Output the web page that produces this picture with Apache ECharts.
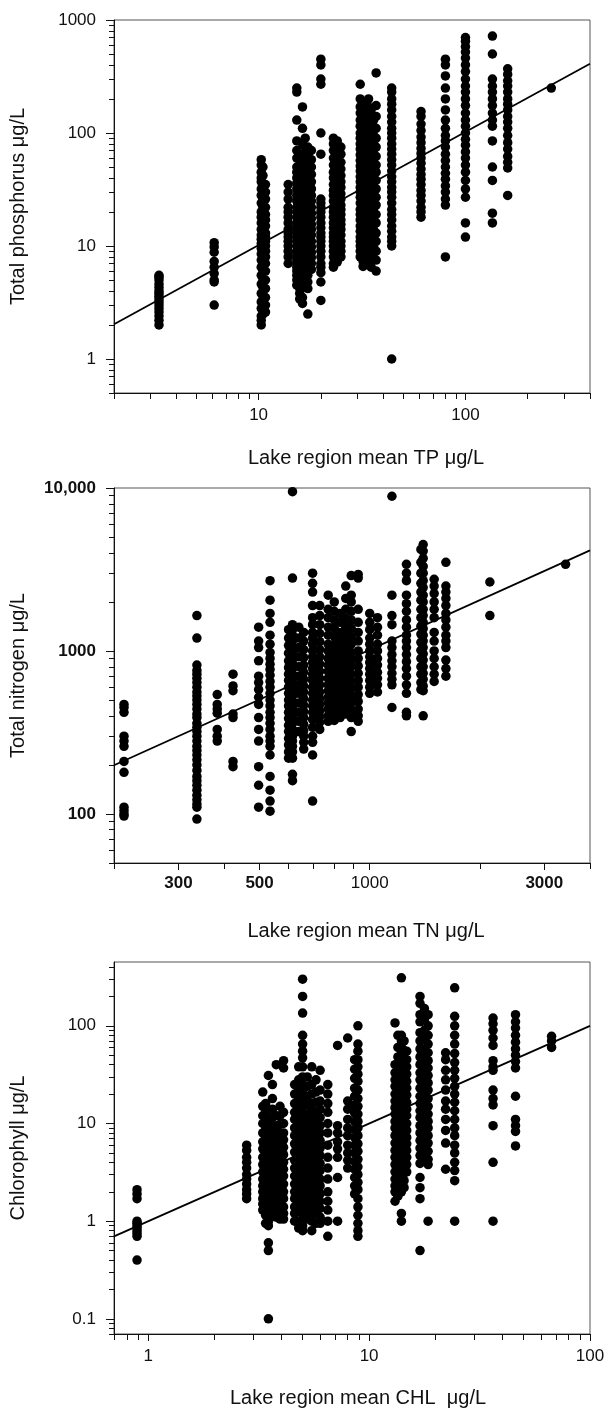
<!DOCTYPE html>
<html><head><meta charset="utf-8">
<script src="https://cdn.jsdelivr.net/npm/echarts@6/dist/echarts.min.js"></script>
<style>html,body{margin:0;padding:0;background:#fff}#c{width:608px;height:1408px}</style>
</head><body><div id="c"></div>
<script>
// ---------- Panel 1: total phosphorus ----------
const tpRegionMeans = [3.3, 6.1, 10.3, 10.8, 13.9, 15.3, 16.3, 17.3, 20, 23, 25, 31, 33, 35, 37, 44, 61, 80, 100, 135, 160, 260,
  15.8, 16.8, 18, 32, 34, 36, 10.5, 24];
const tpLakeValues = [
  [2.0, 2.2, 2.4, 2.6, 2.8, 3.0, 3.2, 3.4, 3.6, 3.8, 4.0, 4.3, 4.6, 5.0, 5.3, 5.5],
  [10.7, 9.8, 8.8, 7.3, 6.5, 5.7, 5.0, 4.8, 3.0],
  [58, 52, 45, 40, 37, 32, 28, 24, 20, 18, 16, 14, 12.5, 11.5, 10.5, 9.5, 8.5, 7.5, 6.5, 5.5, 4.6, 3.8, 3.2, 2.8, 2.4, 2.2, 2.0],
  [35, 30, 26, 22, 19, 17, 15, 13, 12, 11, 10, 9, 8, 7, 6, 5, 4.2, 3.5, 3.0, 2.6],
  [35, 30, 26, 22, 20, 18, 16, 14, 13, 12, 11, 10, 9, 8, 7],
  [250, 230, 130, 85, 70, 60, 50, 45, 40, 36, 32, 28, 25, 22, 20, 18, 16, 15, 14, 13, 12, 11, 10, 9, 8.5, 8, 7.5, 7, 6.5, 6, 5.5, 5, 4.5],
  [170, 110, 80, 65, 55, 48, 42, 38, 34, 30, 27, 24, 21, 19, 17, 15.5, 14, 12.5, 11.5, 10.5, 9.5, 8.5, 7.8, 7, 6.3, 5.7, 5.2, 4.7, 4.3, 3.5, 3.1],
  [75, 65, 55, 48, 42, 36, 31, 27, 24, 21, 18.5, 16.5, 15, 13.5, 12, 11, 10, 9, 8, 7, 6.2, 5.5, 4.8, 4.2, 2.5],
  [450, 400, 300, 270, 100, 65, 26, 24, 22, 20, 18, 16, 14.5, 13, 12, 11, 10, 9, 8, 7, 6.5, 5.8, 4.8, 3.3],
  [90, 80, 70, 60, 52, 45, 40, 35, 31, 28, 25, 22, 20, 18, 16, 14.5, 13, 12, 11, 10, 9, 8, 7, 6.5],
  [75, 65, 55, 48, 42, 37, 33, 29, 26, 23, 21, 19, 17, 15.5, 14, 12.5, 11, 10, 9, 8],
  [270, 200, 170, 150, 130, 115, 100, 90, 80, 72, 64, 57, 51, 46, 41, 37, 33, 30, 27, 24, 21, 19, 17, 15, 13.5, 12, 11, 10, 9, 8],
  [180, 150, 125, 105, 92, 82, 73, 65, 58, 52, 47, 42, 38, 34, 31, 28, 25, 22.5, 20, 18, 16, 14.5, 13, 12, 11, 10, 9, 8, 7.2],
  [160, 135, 115, 100, 88, 78, 70, 62, 55, 49, 44, 40, 36, 32, 29, 26, 23, 21, 19, 17, 15, 13.5, 12, 11, 10, 9, 8, 6.5],
  [340, 175, 140, 110, 90, 75, 62, 52, 45, 38, 32, 27, 23, 19, 16, 13, 11, 9, 7.5, 6],
  [250, 230, 200, 180, 160, 140, 125, 110, 100, 90, 80, 72, 65, 58, 52, 46, 41, 37, 33, 30, 27, 24, 21, 19, 17, 15, 13.5, 12, 11, 10, 1.0],
  [155, 140, 120, 105, 92, 82, 73, 66, 60, 54, 48, 43, 39, 35, 31, 28, 25, 22, 20, 18],
  [450, 400, 320, 250, 200, 160, 130, 110, 95, 85, 75, 65, 57, 50, 44, 39, 34, 30, 26, 23, 8],
  [700, 650, 580, 520, 460, 400, 350, 300, 260, 230, 200, 175, 150, 130, 115, 100, 88, 78, 68, 60, 52, 45, 38, 32, 27, 16, 12],
  [720, 500, 300, 260, 230, 200, 175, 150, 130, 115, 85, 50, 38, 19.5, 16],
  [370, 330, 290, 260, 230, 200, 180, 160, 140, 125, 110, 95, 82, 72, 62, 55, 49, 28],
  [250],
  [60, 52, 46, 41, 37, 33, 29.5, 26.5, 23.5, 21, 19, 17, 15.5, 14, 12.8, 11.7, 10.7, 9.8, 9, 8.2, 7.4, 6.7, 6, 5.3, 4.7, 4.2, 3.8, 3.4],
  [90, 75, 62, 53, 46, 40, 35, 31, 28, 25, 22.5, 20, 18, 16.2, 14.6, 13.2, 12, 10.9, 9.9, 9, 8.2, 7.4, 6.7, 6.1, 5.5, 5],
  [70, 58, 50, 43, 37, 32, 28, 25, 22, 19.5, 17.5, 15.5, 14, 12.5, 11, 9.8, 8.8, 7.9, 7, 6.2],
  [140, 120, 105, 95, 85, 76, 68, 61, 55, 49.5, 44.5, 40, 36, 32.5, 29, 26, 23.5, 21, 19, 17, 15.3, 13.8, 12.4, 11.2, 10, 9, 8.1, 7.3, 6.6],
  [200, 170, 140, 120, 104, 91, 80, 70, 62, 55, 49, 44, 39.5, 35.5, 32, 28.5, 25.5, 23, 20.5, 18.3, 16.3, 14.6, 13, 11.6, 10.4, 9.3, 8.3, 7.4],
  [130, 110, 95, 84, 74, 66, 59, 53, 47, 42, 37.5, 33.5, 30, 27, 24, 21.5, 19.2, 17.2, 15.4, 13.8, 12.3, 11, 9.8, 8.7],
  [50, 42, 35, 30, 26, 22, 19, 17, 15, 13.5, 12, 11, 10, 9, 8, 7, 6, 5, 4.3, 3.6, 3.0, 2.5],
  [85, 72, 62, 54, 47, 41, 36, 32, 28.5, 25.5, 23, 20.5, 18.5, 16.5, 15, 13.5, 12.2, 11, 10, 9, 8, 7.2]
];
const tpFitLine = [[2, 2.03], [400, 410]];

// ---------- Panel 2: total nitrogen ----------
const tnRegionMeans = [213, 337, 383, 423, 497, 534, 615, 640, 698, 770, 830, 890, 930, 1000, 1050, 1150, 1260, 1400, 1500, 1615, 2130, 3430,
  600, 660, 730, 800, 860, 1380];
const tnLakeValues = [
  [470, 450, 420, 300, 280, 260, 210, 180, 110, 105, 100, 97],
  [1650, 1200, 820, 760, 720, 680, 640, 600, 560, 530, 500, 470, 440, 410, 390, 360, 340, 320, 300, 280, 260, 245, 230, 215, 200, 185, 170, 160, 150, 140, 130, 122, 115, 110, 93],
  [540, 470, 440, 415, 330, 300, 280],
  [720, 610, 570, 410, 390, 210, 195],
  [1400, 1150, 1050, 870, 700, 640, 580, 520, 470, 390, 330, 280, 195, 150, 110],
  [2700, 2050, 1700, 1500, 1250, 1100, 980, 900, 830, 770, 710, 650, 600, 550, 500, 460, 420, 390, 360, 330, 300, 280, 260, 230, 170, 140, 120, 104],
  [9500, 2800, 1450, 1350, 1250, 1150, 1050, 980, 900, 840, 780, 720, 670, 620, 570, 530, 490, 450, 420, 390, 360, 330, 300, 280, 260, 240, 220, 175, 160],
  [1400, 1200, 1050, 920, 800, 700, 620, 550, 480, 420, 370, 320],
  [3000, 2600, 2300, 1900, 1600, 1450, 1300, 1200, 1100, 1000, 920, 850, 780, 720, 660, 600, 550, 500, 460, 420, 380, 340, 300, 275, 230, 120],
  [2200, 1800, 1600, 1400, 1250, 1100, 1000, 900, 820, 750, 680, 620, 570, 520, 480, 440, 400, 370],
  [1700, 1500, 1300, 1150, 1050, 950, 870, 800, 730, 670, 610, 560, 510, 470, 430, 390],
  [2900, 2200, 2000, 1750, 1550, 1380, 1230, 1100, 980, 880, 800, 720, 650, 590, 530, 480, 430, 390, 320],
  [2950, 2800, 1800, 1500, 1300, 1150, 1000, 900, 810, 730, 660, 600, 540, 490, 440, 400, 370],
  [1700, 1500, 1350, 1200, 1100, 1000, 920, 850, 780, 720, 660, 600, 550],
  [1600, 1400, 1250, 1100, 1000, 900, 820, 740, 680, 620, 560],
  [8900, 2200, 1650, 1450, 1150, 1050, 950, 870, 800, 730, 670, 620, 450],
  [3400, 3000, 2700, 2200, 1950, 1750, 1550, 1400, 1250, 1150, 1050, 950, 860, 780, 700, 620, 550, 420, 400],
  [4500, 4100, 3700, 3300, 3000, 2700, 2450, 2200, 2000, 1800, 1650, 1500, 1370, 1250, 1150, 1050, 960, 880, 800, 730, 670, 610, 570, 400],
  [2750, 2500, 2250, 2000, 1800, 1600, 1300, 1150, 1000, 900, 800, 720, 650],
  [3500, 2500, 2300, 2100, 1900, 1700, 1550, 1400, 1250, 1150, 1050, 880, 780, 700],
  [2650, 1650],
  [3400],
  [1350, 1200, 1080, 970, 870, 790, 720, 660, 600, 550, 500, 460, 420, 385, 350, 320, 290, 265, 240, 220],
  [1300, 1150, 1020, 910, 820, 740, 670, 610, 560, 510, 465, 425, 390, 355, 325, 300, 275, 250],
  [1900, 1650, 1450, 1280, 1140, 1020, 920, 830, 750, 680, 620, 560, 510, 470, 430, 395, 365, 330],
  [2000, 1750, 1550, 1380, 1230, 1100, 990, 890, 800, 720, 650, 590, 535, 485, 440, 400, 375],
  [2500, 2100, 1800, 1580, 1400, 1250, 1120, 1000, 900, 810, 730, 660, 600, 545, 495, 450, 410],
  [4200, 3500, 3000, 2600, 2300, 2050, 1800, 1600, 1420, 1270, 1130, 1010, 900, 800, 720, 640, 580]
];
const tnFitLine = [[200, 199], [4000, 4140]];

// ---------- Panel 3: chlorophyll ----------
const chlRegionMeans = [0.89, 2.79, 3.3, 3.5, 3.8, 4.1, 4.6, 5.0, 5.5, 6.0, 6.5, 7.2, 8.0, 8.9, 13.1, 14, 14.8, 17, 18.5, 22.2, 24.4, 36.4, 46, 67,
  3.4, 3.65, 3.95, 4.8, 5.25, 5.75, 8.6, 13.5, 14.4, 17.8];
const chlLakeValues = [
  [2.1, 1.9, 1.7, 1.0, 0.95, 0.9, 0.85, 0.8, 0.75, 0.7, 0.4],
  [6, 5.3, 4.5, 4, 3.5, 3, 2.7, 2.4, 2.1, 1.9, 1.7],
  [21, 15, 12, 10, 8, 6.5, 5.5, 4.5, 3.8, 3.2, 2.7, 2.3, 2, 1.7, 1.5, 1.3],
  [31, 14, 11, 9, 7.5, 6.3, 5.2, 4.4, 3.7, 3.1, 2.6, 2.2, 1.9, 1.6, 1.4, 1.2, 1.0, 0.9, 0.6, 0.5, 0.1],
  [40, 12, 9.5, 8, 6.5, 5.5, 4.6, 3.9, 3.3, 2.8, 2.4, 2, 1.7, 1.45, 1.25, 1.1],
  [44, 37, 13, 10, 8, 6.8, 5.7, 4.8, 4, 3.4, 2.9, 2.4, 2, 1.7, 1.4, 1.2, 1.05],
  [25, 20, 16, 13, 11, 9, 7.5, 6.2, 5.1, 4.2, 3.5, 2.9, 2.4, 2.0, 1.7, 1.4, 1.2, 1.0],
  [300, 200, 135, 80, 65, 55, 47, 38, 30, 25, 21, 18, 15, 13, 11, 9.5, 8, 7, 6, 5.2, 4.5, 3.9, 3.3, 2.8, 2.4, 2, 1.7, 1.45, 1.25, 1.05, 0.9, 0.8],
  [38, 25, 20, 16, 13.5, 11.5, 9.8, 8.3, 7, 6, 5, 4.3, 3.6, 3.1, 2.6, 2.2, 1.9, 1.6, 1.35, 1.15, 1.0, 0.8],
  [35, 22, 17, 14, 11.5, 9.5, 8, 6.7, 5.6, 4.7, 3.9, 3.3, 2.7, 2.3, 1.9, 1.6, 1.35, 1.1, 0.95],
  [25, 20, 16, 13, 10, 8, 6, 4.5, 3.5, 2.7, 2, 1.6, 1.3, 1.0, 0.7],
  [63, 9.5, 8, 6.5, 5.5, 4.5, 2.8, 1.0],
  [75, 17, 14, 11, 9, 7.5, 6, 5, 4.2, 3.5],
  [100, 65, 55, 45, 38, 32, 27, 22, 18, 15, 12.5, 10.5, 9, 7.5, 6.2, 5.2, 4.3, 3.6, 3, 2.5, 2.1, 1.7, 1.4, 1.15, 0.95, 0.8, 0.7],
  [107, 40, 33, 28, 24, 20, 17, 14.5, 12.5, 10.5, 9, 7.5, 6.3, 5.3, 4.5, 3.8, 3.2, 2.7, 2.3, 2, 1.6],
  [310, 80, 70, 60, 52, 45, 39, 34, 29, 25, 21.5, 18.5, 16, 14, 12, 10.5, 9, 7.8, 6.7, 5.8, 5, 4.3, 3.7, 3.2, 2.7, 2.3, 2, 1.2, 1.0],
  [55, 45, 38, 32, 27, 23, 19.5, 16.5, 14, 12, 10, 8.5, 7.2, 6.2, 5.3, 4.5, 3.8, 3.2],
  [200, 170, 130, 110, 85, 70, 58, 48, 40, 33, 28, 23, 19, 16, 13.5, 11.5, 9.5, 8, 6.7, 5.6, 4.7, 3.9, 2.8, 2.2, 1.7, 0.5],
  [130, 100, 80, 65, 53, 44, 37, 31, 26, 22, 18, 15, 12.5, 10.5, 9, 7.5, 6.3, 5.2, 4.3, 3.8, 1.0],
  [53, 45, 35, 28, 22, 17, 14, 11, 8.5, 6.3, 3.4],
  [245, 125, 100, 80, 65, 52, 42, 35, 29, 24, 20, 16.5, 13.5, 11, 9, 7.5, 6, 5, 4, 3.3, 2.6, 1.0],
  [120, 105, 90, 75, 63, 44, 38, 35, 22, 18, 15.5, 9.5, 4, 1.0],
  [130, 110, 95, 80, 68, 58, 50, 43, 37, 19, 11, 9.5, 8.3, 5.9],
  [78, 70, 60],
  [16, 13, 10.5, 8.6, 7, 5.8, 4.8, 4, 3.3, 2.7, 2.25, 1.9, 1.6, 1.35, 1.15, 0.95],
  [25, 18, 14, 11.5, 9.3, 7.6, 6.2, 5.1, 4.2, 3.5, 2.9, 2.4, 2, 1.7, 1.4, 1.2],
  [15, 12, 9.8, 8, 6.6, 5.4, 4.5, 3.7, 3.1, 2.6, 2.2, 1.8, 1.5, 1.25, 1.05],
  [38, 28, 22, 18, 14.5, 12, 10, 8.3, 6.9, 5.7, 4.7, 3.9, 3.2, 2.7, 2.2, 1.8, 1.5, 1.25, 1.0, 0.85],
  [30, 24, 19, 15.5, 12.5, 10.2, 8.4, 7, 5.8, 4.8, 4, 3.3, 2.7, 2.2, 1.8, 1.5, 1.25, 1.05],
  [28, 21, 16.5, 13.2, 10.7, 8.7, 7.1, 5.8, 4.8, 4, 3.3, 2.7, 2.2, 1.8, 1.5, 1.2, 0.95],
  [45, 36, 29, 23, 19, 15.5, 12.8, 10.5, 8.7, 7.2, 6, 5, 4.1, 3.4, 2.8, 2.3, 1.9],
  [80, 60, 48, 39, 32, 26, 21.5, 18, 15, 12.5, 10.5, 8.8, 7.4, 6.2, 5.2, 4.4, 3.7, 3.1, 2.6, 2.2, 1.8],
  [70, 56, 46, 38, 31, 26, 21.5, 18, 15, 12.6, 10.6, 8.9, 7.5, 6.3, 5.3, 4.4, 3.7, 3.1, 2.6, 2.2],
  [150, 115, 90, 72, 58, 47, 38, 31, 25, 20.5, 16.8, 13.8, 11.3, 9.3, 7.7, 6.3, 5.2, 4.3]
];
const chlFitLine = [[0.7, 0.7], [100, 100]];

// ---------- Axis tick labels ----------
const tpXLabels = [10, 100];
const tpYLabels = [1, 10, 100, 1000];
const tnXLabels = [300, 500, 1000, 3000];
const tnYLabels = [100, 1000, 10000];
const chlXLabels = [1, 10, 100];
const chlYLabels = [0.1, 1, 10, 100];

// minor tick positions (1..9 x each decade) within [min,max]
function decadeTicks(min, max) {
  const out = [];
  for (let e = -3; e <= 5; e++) {
    for (let m = 1; m <= 9; m++) {
      const v = +(m * Math.pow(10, e)).toPrecision(6);
      if (v >= min * 0.9999 && v <= max * 1.0001) out.push(v);
    }
  }
  return out;
}

function pointsOf(means, values) {
  const pts = [];
  means.forEach((x, i) => values[i].forEach(y => pts.push([x, y])));
  return pts;
}

const FONT = '"Liberation Sans", Arial, Helvetica, sans-serif';

function axisPair(o) {
  const main = {
    type: 'log', logBase: 10, gridIndex: o.grid, min: o.min, max: o.max,
    position: o.isX ? 'bottom' : 'left',
    axisLine: { show: true, onZero: false, lineStyle: { color: '#111', width: 1 } },
    axisTick: { show: true, inside: false, length: o.majorLen, customValues: o.major, lineStyle: { color: '#111', width: 1 } },
    axisLabel: Object.assign({
      show: true, customValues: o.labels, fontSize: 17, fontFamily: FONT, color: '#111',
      margin: o.margin, fontWeight: o.bold ? 'bold' : 'normal',
      formatter: o.formatter || (v => String(v))
    }, o.labelExtra || {}),
    splitLine: { show: false }, minorTick: { show: false }, minorSplitLine: { show: false },
    name: o.name, nameLocation: 'middle', nameGap: o.nameGap,
    nameTextStyle: Object.assign({ fontSize: 20, fontFamily: FONT, color: '#111' }, o.nameStyle || {})
  };
  const minor = {
    type: 'log', logBase: 10, gridIndex: o.grid, min: o.min, max: o.max,
    position: o.isX ? 'bottom' : 'left',
    axisLine: { show: false },
    axisTick: { show: true, inside: false, length: o.minorLen, customValues: o.minor, lineStyle: { color: '#111', width: 1 } },
    axisLabel: { show: false },
    splitLine: { show: false }, minorTick: { show: false }, minorSplitLine: { show: false }
  };
  return [main, minor];
}

const gridBox = { show: true, borderColor: '#555', borderWidth: 1, backgroundColor: 'transparent', outerBoundsMode: 'none', containLabel: false };

const xAxes = [].concat(
  axisPair({ grid: 0, isX: true, min: 2, max: 400, labels: tpXLabels, major: tpXLabels, minor: decadeTicks(2, 400), majorLen: 7, minorLen: 6, margin: 14,
    name: 'Lake region mean TP \u03bcg/L', nameGap: 55, nameStyle: { padding: [0, 0, 0, 28] } }),
  axisPair({ grid: 1, isX: true, min: 200, max: 4000, labels: tnXLabels, major: tnXLabels, minor: decadeTicks(200, 4000), majorLen: 7, minorLen: 6, margin: 12,
    formatter: v => (v === 1000 ? '{n|1000}' : '{b|' + v + '}'),
    labelExtra: { rich: { n: { fontSize: 17, fontFamily: FONT, color: '#111', fontWeight: 'normal' }, b: { fontSize: 17, fontFamily: FONT, color: '#111', fontWeight: 'bold' } } },
    name: 'Lake region mean TN \u03bcg/L', nameGap: 58, nameStyle: { padding: [0, 0, 0, 28] } }),
  axisPair({ grid: 2, isX: true, min: 0.7, max: 100, labels: chlXLabels, major: chlXLabels, minor: decadeTicks(0.7, 100), majorLen: 7, minorLen: 6, margin: 14,
    name: 'Lake region mean CHL  \u03bcg/L', nameGap: 54, nameStyle: { padding: [0, 0, 0, 12] } })
);
const yAxes = [].concat(
  axisPair({ grid: 0, isX: false, min: 0.5, max: 1000, labels: tpYLabels, major: tpYLabels, minor: decadeTicks(0.5, 1000), majorLen: 8, minorLen: 5, margin: 18,
    name: 'Total phosphorus \u03bcg/L', nameGap: 86 }),
  axisPair({ grid: 1, isX: false, min: 50, max: 10000, labels: tnYLabels, major: tnYLabels, minor: decadeTicks(50, 10000), majorLen: 8, minorLen: 5, margin: 18, bold: true,
    formatter: v => (v === 10000 ? '10,000' : String(v)),
    name: 'Total nitrogen \u03bcg/L', nameGap: 86 }),
  axisPair({ grid: 2, isX: false, min: 0.07, max: 450, labels: chlYLabels, major: chlYLabels, minor: decadeTicks(0.07, 450), majorLen: 8, minorLen: 5, margin: 18,
    name: 'Chlorophyll \u03bcg/L', nameGap: 86 })
);

function scatter(idx, pts) {
  return { type: 'scatter', xAxisIndex: idx * 2, yAxisIndex: idx * 2, data: pts, symbol: 'circle', symbolSize: 9.5,
    itemStyle: { color: '#000', opacity: 1 }, silent: true, animation: false, z: 2 };
}
function fit(idx, pts) {
  return { type: 'line', xAxisIndex: idx * 2, yAxisIndex: idx * 2, data: pts, symbol: 'none',
    lineStyle: { color: '#000', width: 1.8 }, silent: true, animation: false, z: 3 };
}

const chart = echarts.init(document.getElementById('c'), null, { renderer: 'canvas' });
chart.setOption({
  backgroundColor: '#fff',
  animation: false,
  grid: [
    Object.assign({ left: 114, top: 20, width: 476, height: 373 }, gridBox),
    Object.assign({ left: 114, top: 488, width: 476, height: 375 }, gridBox),
    Object.assign({ left: 114, top: 962, width: 476, height: 372 }, gridBox)
  ],
  xAxis: xAxes,
  yAxis: yAxes,
  series: [
    scatter(0, pointsOf(tpRegionMeans, tpLakeValues)), fit(0, tpFitLine),
    scatter(1, pointsOf(tnRegionMeans, tnLakeValues)), fit(1, tnFitLine),
    scatter(2, pointsOf(chlRegionMeans, chlLakeValues)), fit(2, chlFitLine)
  ]
});
</script></body></html>
